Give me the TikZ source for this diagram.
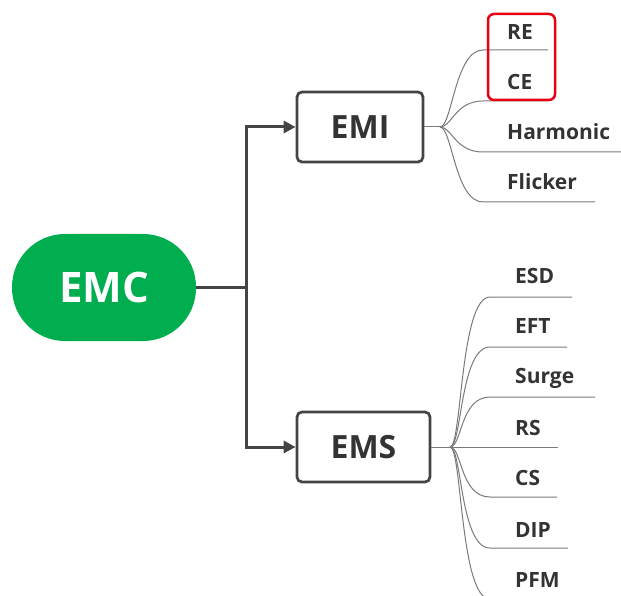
\documentclass[tikz,border=0pt]{standalone}
\usepackage{fontspec}
\setmainfont{Open Sans}
\usetikzlibrary{arrows.meta}
\definecolor{emcgreen}{HTML}{00AE4F}
\definecolor{darkline}{HTML}{444444}
\definecolor{txt}{HTML}{333333}
\definecolor{thin}{HTML}{7A7A7A}
\definecolor{hlred}{HTML}{E60012}
\tikzset{
  emcnode/.style={fill=emcgreen, draw=none, rounded corners=53pt, minimum width=184pt, minimum height=107pt, inner sep=0pt, text=white, font=\fontsize{42}{44}\selectfont\bfseries},
  catbox/.style={draw=darkline, line width=2.7pt, rounded corners=5pt, fill=white, minimum height=70pt, inner sep=0pt, text=txt, font=\fontsize{32}{34}\selectfont\bfseries},
  conn/.style={draw=darkline, line width=3pt},
  connarrow/.style={conn, -{Triangle[length=12pt,width=12pt]}},
  leaf/.style={anchor=base west, inner sep=0pt, text=txt, font=\fontsize{21}{23}\selectfont\bfseries},
  branch/.style={draw=thin, line width=1pt},
  hlbox/.style={draw=hlred, line width=2.5pt, rounded corners=6pt, minimum width=67pt, minimum height=86pt, inner sep=0pt}
}
\begin{document}
\begin{tikzpicture}[x=1pt,y=-1pt]
\useasboundingbox (0,0) rectangle (621,596);
\begin{scope}
\clip (0,0) rectangle (621,596);
% main nodes
\node[emcnode] (emc) at (104,287.5) {EMC};
\node[catbox, minimum width=126pt] (emi) at (360,127) {EMI};
\node[catbox, minimum width=133pt] (ems) at (363.5,447) {EMS};
% trunk
\coordinate (j) at (246,287.5);
\draw[conn] (emc.east) -- (j);
\draw[connarrow] (j) |- (emi.west);
\draw[connarrow] (j) |- (ems.west);
% EMI fan
\coordinate (fi) at (440,127);
\draw[branch] (emi.east) -- (fi);
\node[leaf] (re) at (507,40) {RE};
\node[leaf] (ce) at (507,90) {CE};
\node[leaf] (harm) at (507,140) {Harmonic};
\node[leaf] (flick) at (507,190) {Flicker};
\coordinate (reS) at (483,50);   \coordinate (reE) at (548,50);
\coordinate (ceS) at (483,101);  \coordinate (ceE) at (548,101);
\coordinate (hS) at (483,152);   \coordinate (hE) at (621,152);
\coordinate (fS) at (483,202);   \coordinate (fE) at (595,202);
\foreach \s/\e in {reS/reE, ceS/ceE, hS/hE, fS/fE}{
  \draw[branch] (fi) .. controls +(12,0) and +(-28,0) .. (\s) -- (\e);
}
% EMS fan
\coordinate (fs) at (450,447);
\draw[branch] (ems.east) -- (fs);
\node[leaf] (esd) at (515,283) {ESD};
\node[leaf] (eft) at (515,333) {EFT};
\node[leaf] (surge) at (515,383) {Surge};
\node[leaf] (rs) at (515,435) {RS};
\node[leaf] (cs) at (515,485) {CS};
\node[leaf] (dip) at (515,537) {DIP};
\node[leaf] (pfm) at (515,587) {PFM};
\coordinate (esdS) at (490,297);  \coordinate (esdE) at (572,297);
\coordinate (eftS) at (490,347);  \coordinate (eftE) at (567,347);
\coordinate (surS) at (490,397);  \coordinate (surE) at (595,397);
\coordinate (csS) at (490,497);   \coordinate (csE) at (557,497);
\coordinate (dipS) at (490,548);  \coordinate (dipE) at (568,548);
\coordinate (pfmS) at (490,599);  \coordinate (pfmE) at (570,599);
\coordinate (rsE) at (558,447);
\draw[branch] (fs) -- (rsE);
\foreach \s/\e in {esdS/esdE, eftS/eftE, surS/surE, csS/csE, dipS/dipE, pfmS/pfmE}{
  \draw[branch] (fs) .. controls +(12,0) and +(-30,0) .. (\s) -- (\e);
}
% highlight
\node[hlbox] (hl) at (521.5,57) {};
\end{scope}
\end{tikzpicture}
\end{document}
